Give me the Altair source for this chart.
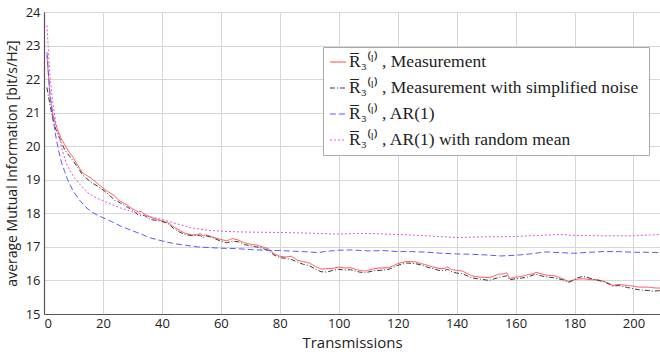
import altair as alt
import pandas as pd

# ---------------- data ----------------
meas_x = [1, 2, 3, 4, 5, 6, 7, 8, 10, 12, 13, 15, 16, 18, 20, 22, 24, 25, 26, 28, 30, 32, 33, 34, 36, 38,
          40, 42, 44, 46, 48, 50, 52, 53, 54, 55, 57, 60, 62, 64, 66, 68, 70, 72, 74, 76, 78, 80, 82, 84,
          86, 88, 90, 92, 94, 96, 98, 100, 102, 104, 107, 109, 112, 114, 117, 120, 123, 126, 128, 130,
          132, 134, 136, 137, 138, 140, 142, 145, 148, 151, 154, 156, 157, 158, 160, 162, 164, 166, 167,
          169, 171, 173, 176, 178, 179, 181, 183, 186, 188, 190, 192, 193, 195, 198, 200, 202, 205, 207, 209]
meas_y = [22.7, 21.5, 20.95, 20.65, 20.4, 20.2, 20.05, 19.9, 19.65, 19.35, 19.22, 19.1, 19.05, 18.9, 18.75,
          18.63, 18.52, 18.42, 18.35, 18.26, 18.14, 18.04, 18.06, 17.98, 17.89, 17.83, 17.78, 17.72, 17.6,
          17.49, 17.4, 17.36, 17.36, 17.4, 17.33, 17.36, 17.3, 17.22, 17.18, 17.25, 17.2, 17.12, 17.08,
          17.06, 17.0, 16.95, 16.8, 16.72, 16.7, 16.72, 16.6, 16.56, 16.52, 16.42, 16.34, 16.35, 16.36,
          16.4, 16.37, 16.38, 16.3, 16.28, 16.35, 16.37, 16.38, 16.5, 16.57, 16.55, 16.5, 16.46, 16.4,
          16.36, 16.36, 16.41, 16.33, 16.3, 16.28, 16.14, 16.1, 16.08, 16.18, 16.2, 16.23, 16.06, 16.1,
          16.12, 16.17, 16.2, 16.24, 16.19, 16.15, 16.15, 16.05, 15.97, 16.0, 16.04, 16.05, 16.02, 16.02,
          15.97, 15.9, 15.85, 15.88, 15.85, 15.83, 15.8, 15.8, 15.78, 15.77]

simp_x = meas_x
simp_y = [21.75, 21.25, 20.8, 20.5, 20.3, 20.1, 19.9, 19.78, 19.55, 19.3, 19.15, 19.0, 18.92, 18.82, 18.7,
          18.56, 18.38, 18.36, 18.3, 18.2, 18.1, 17.95, 17.92, 17.94, 17.82, 17.79, 17.76, 17.7, 17.55,
          17.44, 17.36, 17.34, 17.34, 17.35, 17.27, 17.33, 17.28, 17.17, 17.12, 17.17, 17.15, 17.07, 17.03,
          17.0, 16.96, 16.9, 16.76, 16.68, 16.66, 16.62, 16.55, 16.48, 16.44, 16.34, 16.26, 16.25, 16.3,
          16.33, 16.31, 16.32, 16.25, 16.23, 16.29, 16.3, 16.33, 16.45, 16.52, 16.5, 16.46, 16.4, 16.35,
          16.3, 16.3, 16.33, 16.27, 16.22, 16.2, 16.08, 16.04, 16.0, 16.08, 16.12, 16.14, 16.02, 16.05,
          16.07, 16.1, 16.16, 16.18, 16.13, 16.1, 16.08, 16.02, 15.94, 15.98, 16.08, 16.12, 16.05, 16.0,
          15.96, 15.88, 15.83, 15.85, 15.79, 15.75, 15.72, 15.7, 15.68, 15.7]

ar_x = [1, 2, 3, 4, 5, 6, 7, 8, 10, 12, 14, 16, 18, 20, 23, 26, 30, 33, 36, 40, 44, 48, 52, 56, 60, 65, 70,
        75, 80, 85, 90, 93, 96, 100, 104, 110, 115, 120, 125, 130, 135, 140, 145, 150, 155, 160, 165, 170,
        175, 180, 185, 190, 195, 200, 205, 209]
ar_y = [22.8, 21.6, 20.85, 20.3, 19.85, 19.5, 19.25, 19.0, 18.65, 18.4, 18.2, 18.05, 17.95, 17.87, 17.75,
        17.62, 17.48, 17.38, 17.27, 17.18, 17.1, 17.05, 17.0, 16.98, 16.96, 16.95, 16.92, 16.9, 16.89,
        16.87, 16.85, 16.83, 16.87, 16.9, 16.91, 16.88, 16.89, 16.86, 16.86, 16.84, 16.81, 16.79, 16.78,
        16.76, 16.73, 16.75, 16.79, 16.85, 16.83, 16.81, 16.84, 16.86, 16.86, 16.84, 16.84, 16.83]

arm_x = [1, 2, 3, 4, 5, 6, 7, 8, 10, 12, 15, 18, 20, 23, 26, 30, 35, 40, 45, 50, 55, 60, 65, 70, 80, 90,
         100, 105, 110, 120, 130, 140, 150, 160, 170, 175, 180, 190, 200, 209]
arm_y = [23.6, 22.1, 21.3, 20.7, 20.3, 19.95, 19.65, 19.4, 19.1, 18.88, 18.6, 18.45, 18.38, 18.26, 18.16,
         18.05, 17.92, 17.82, 17.69, 17.57, 17.5, 17.47, 17.45, 17.44, 17.43, 17.41, 17.38, 17.4, 17.4,
         17.37, 17.33, 17.28, 17.3, 17.31, 17.35, 17.37, 17.34, 17.33, 17.33, 17.37]

R = "R\u0305\u2083\u207d\u02e1\u207e"
names = [R + "  , Measurement",
         R + "  , Measurement with simplified noise",
         R + "  , AR(1)",
         R + "  , AR(1) with random mean"]
colors = ["#ff4d4d", "#3a3a3a", "#5a5aff", "#dd55dd"]
dashes = [[1, 0], [5, 2, 1, 2], [6, 3], [2, 2]]

rows = []
for name, xs, ys in zip(names, [meas_x, simp_x, ar_x, arm_x], [meas_y, simp_y, ar_y, arm_y]):
    for a, b in zip(xs, ys):
        rows.append({"t": a, "v": b, "s": name})
df = pd.DataFrame(rows)

leg = alt.Legend(
    title=None, orient="none", legendX=279, legendY=35,
    symbolType="stroke", symbolSize=260, symbolStrokeWidth=1.2,
    labelFont="Liberation Serif", labelFontSize=17.5, labelColor="#222222", labelLimit=600,
    rowPadding=8, padding=6, strokeColor="#aaaaaa", fillColor="white", cornerRadius=0,
    labelOffset=2,
)

chart = alt.Chart(df).mark_line(strokeWidth=1, clip=True).encode(
    x=alt.X("t:Q", scale=alt.Scale(domain=[0, 209], nice=False, zero=False),
            axis=alt.Axis(values=list(range(0, 201, 20)), title="Transmissions")),
    y=alt.Y("v:Q", scale=alt.Scale(domain=[15, 24], nice=False, zero=False),
            axis=alt.Axis(values=list(range(15, 25)), title="average Mutual Information [bit/s/Hz]")),
    color=alt.Color("s:N", scale=alt.Scale(domain=names, range=colors), legend=leg),
    strokeDash=alt.StrokeDash("s:N", scale=alt.Scale(domain=names, range=dashes), legend=leg),
    order="t:Q",
).properties(
    width=616, height=302,
    padding={"left": 44, "top": 12, "right": 0, "bottom": 38},
    autosize="none",
).configure_axis(
    grid=True, gridColor="#d6d6d6", gridWidth=1,
    domainColor="#555555", domainWidth=1.2,
    ticks=False, labelFont="Open Sans", labelFontSize=13, labelColor="#222222",
    titleFont="Open Sans", titleFontSize=15, titleFontWeight="normal", titleColor="#222222",
).configure_axisX(
    labelPadding=3, titlePadding=5,
).configure_axisY(
    labelPadding=4, titlePadding=6, titleFontSize=14,
).configure_view(
    stroke="#bbbbbb",
)

chart.save("out.html", embed_options={"renderer": "svg", "actions": False})
